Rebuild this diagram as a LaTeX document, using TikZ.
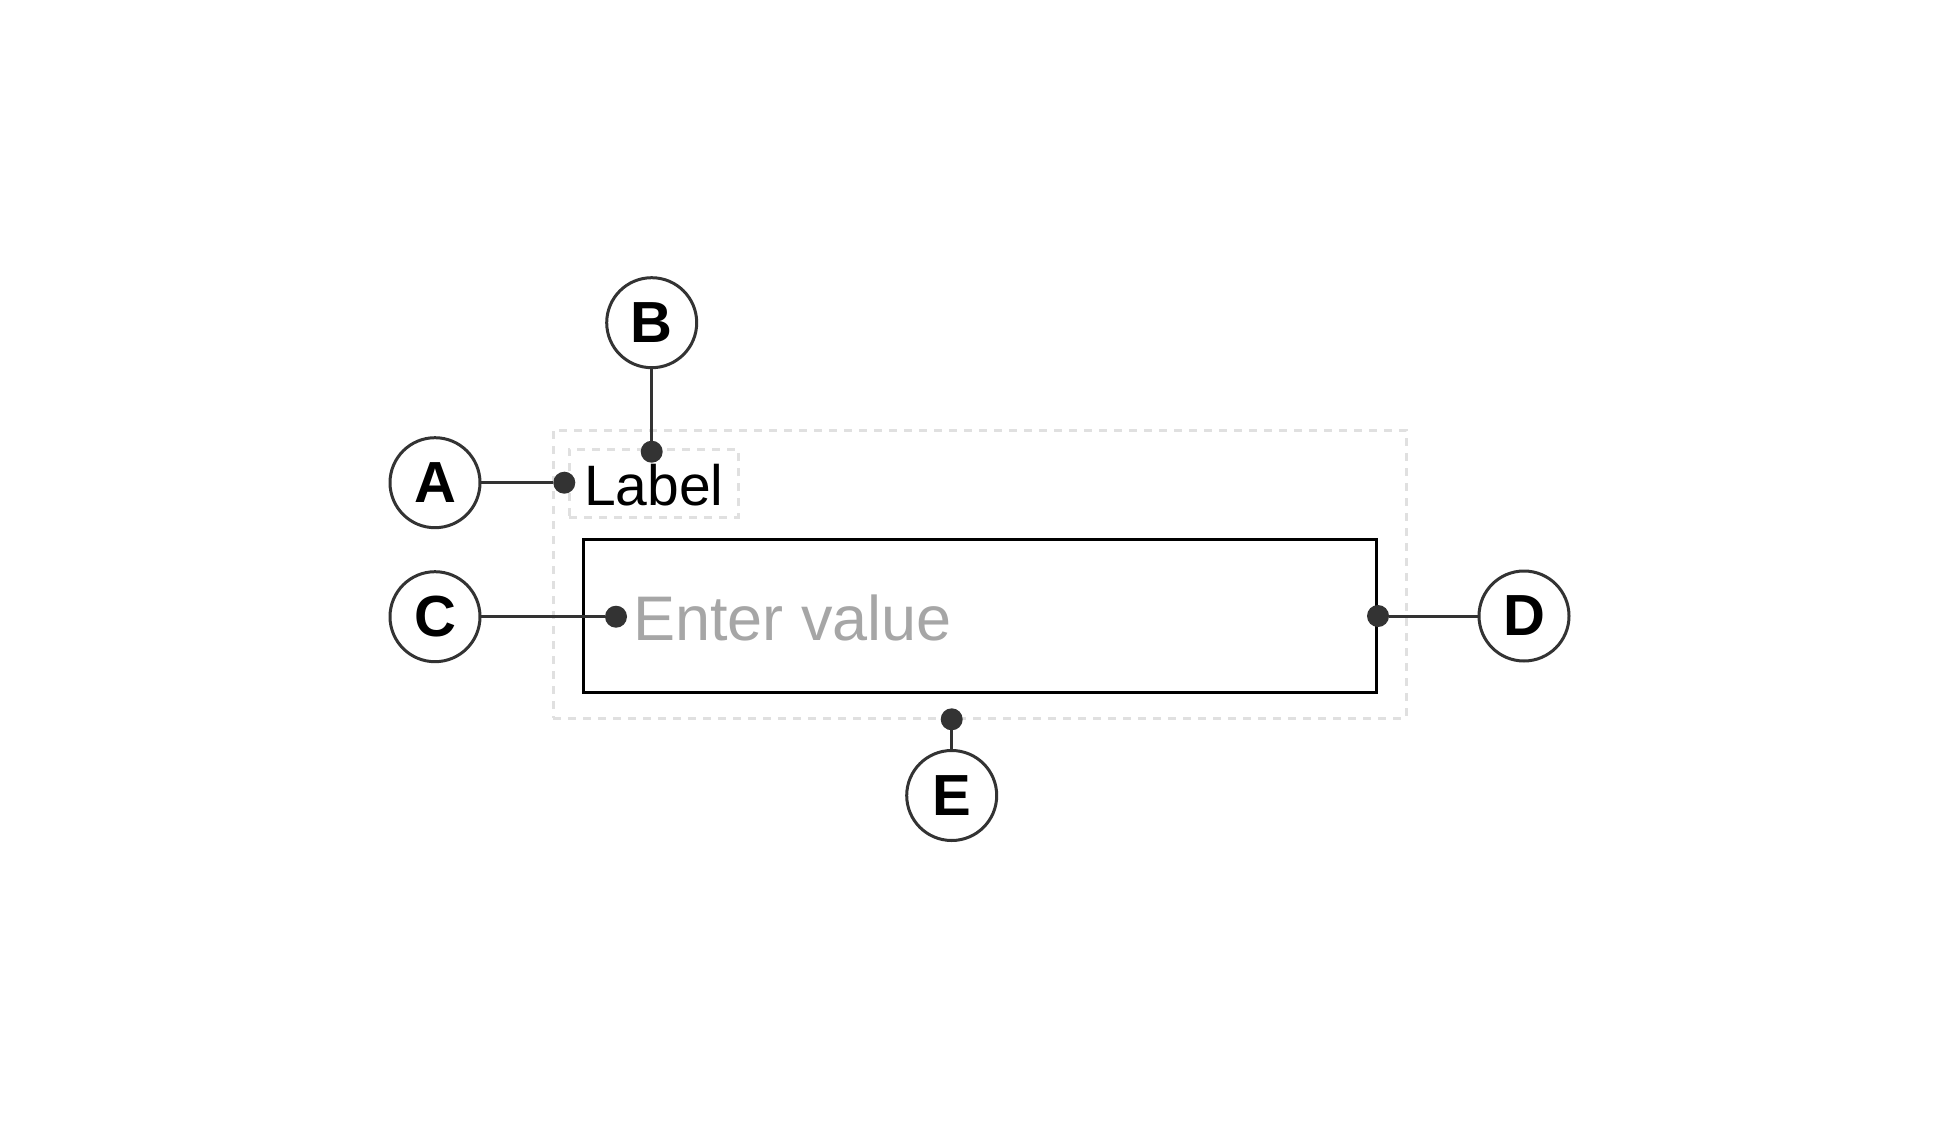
\documentclass[tikz,border=0pt]{standalone}
\usepackage{fontspec}
\setmainfont{Liberation Sans}
\usepackage{tikz}
\usetikzlibrary{positioning}

\definecolor{ink}{HTML}{333333}
\definecolor{guideline}{HTML}{E0E0E0}
\definecolor{hint}{HTML}{A6A6A6}

\begin{document}
\begin{tikzpicture}[
	x=1pt, y=-1pt,
	every node/.style={inner sep=0pt, outer sep=0pt},
	callout/.style={circle, draw=ink, line width=3pt, fill=white, minimum size=90pt, font=\fontsize{58}{58}\selectfont\bfseries},
	dot/.style={circle, fill=ink, minimum size=22pt},
	lead/.style={draw=ink, line width=3pt},
	field/.style={draw=black, line width=3.3pt, minimum width=793pt, minimum height=153pt},
	guide/.style={draw=guideline, line width=3pt, dash pattern=on 8pt off 7pt}
	]

	\useasboundingbox (0,0) rectangle (1956,1132);

	% wrapper and label area
	\node[guide, minimum width=853pt, minimum height=288pt] (wrapper) at (979.7,574) {};
	\node[guide, minimum width=169pt, minimum height=68pt] (labelbox) at (653.5,483.3) {};
	\node[anchor=base west, font=\fontsize{57}{57}\selectfont] (label) at (584,505) {Label};

	% input field
	\node[field] (input) at (980,615.7) {};
	\node[anchor=base west, text=hint, font=\fontsize{63}{63}\selectfont] (placeholder) at (633,640) {Enter value};

	% anchor dots
	\node[dot] (pa) at (564.3,482.7) {};
	\node[dot] (pb) at (651.7,451.7) {};
	\node[dot] (pc) at (616,616.7) {};
	\node[dot] (pd) at (1378,616) {};
	\node[dot] (pe) at (951.7,719.3) {};

	% callouts
	\node[callout] (A) at (435,482.7) {A};
	\node[callout] (B) at (651.7,322.7) {B};
	\node[callout] (C) at (435,616.7) {C};
	\node[callout] (D) at (1524,616) {D};
	\node[callout] (E) at (951.7,795.5) {E};

	\draw[lead] (A) -- (pa);
	\draw[lead] (B) -- (pb);
	\draw[lead] (C) -- (pc);
	\draw[lead] (D) -- (pd);
	\draw[lead] (E) -- (pe);

\end{tikzpicture}
\end{document}
